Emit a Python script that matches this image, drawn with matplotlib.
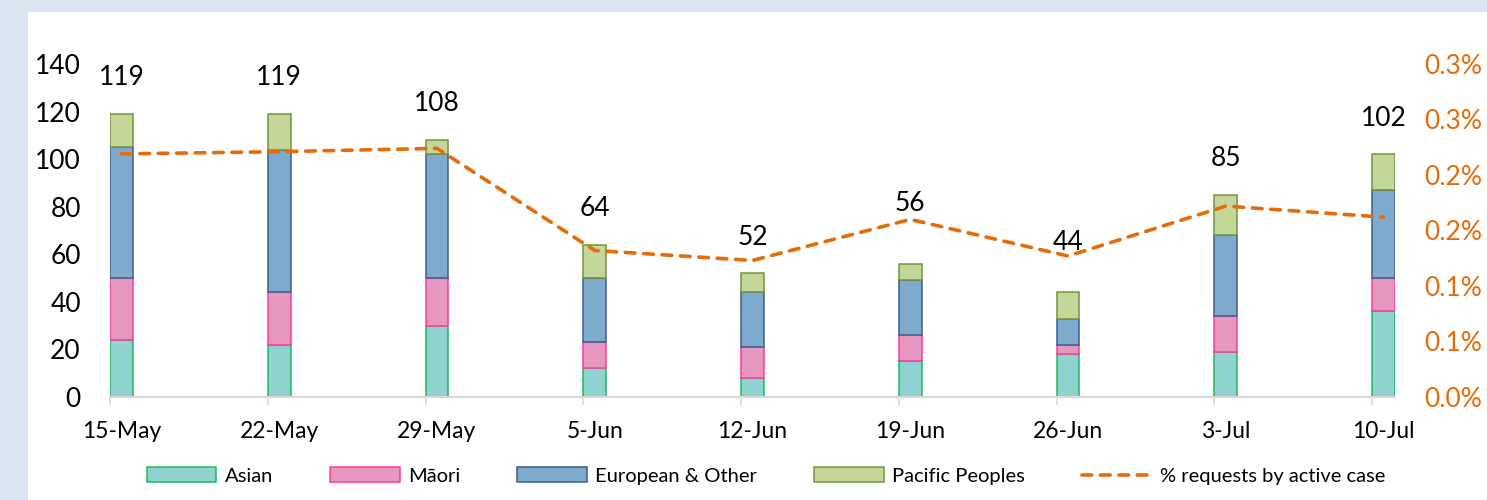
import numpy as np
import matplotlib
matplotlib.use('Agg')
import matplotlib.pyplot as plt
from matplotlib.patches import Rectangle

plt.rcParams['font.family'] = ['Lato', 'DejaVu Sans']

weeks = ['15-May', '22-May', '29-May', '5-Jun', '12-Jun', '19-Jun', '26-Jun', '3-Jul', '10-Jul']
asian = [24, 22, 30, 12, 8, 15, 18, 19, 36]
maori = [26, 22, 20, 11, 13, 11, 4, 15, 14]
european = [55, 60, 52, 27, 23, 23, 11, 34, 37]
pacific = [14, 15, 6, 14, 8, 7, 11, 17, 15]
pct_requests = [0.219, 0.221, 0.224, 0.132, 0.123, 0.160, 0.127, 0.172, 0.162]

right_ticks = [0.0, 0.05, 0.10, 0.15, 0.20, 0.25, 0.30]
right_labels = ['0.0%', '0.1%', '0.1%', '0.2%', '0.2%', '0.3%', '0.3%']

series = [
    ('Asian', asian, '#8ed3cf', '#1fba5c'),
    ('M\u0101ori', maori, '#e697c0', '#ff3b9b'),
    ('European & Other', european, '#7eaacd', '#3c5f8c'),
    ('Pacific Peoples', pacific, '#c4d79b', '#77933c'),
]

orange = '#e46c0a'

fig = plt.figure(figsize=(14.87, 5.0), dpi=100)
fig.patches.append(Rectangle((0, 0), 28 / 1487, 1, transform=fig.transFigure,
                             facecolor='#dce6f2', edgecolor='none', zorder=0))
fig.patches.append(Rectangle((0, 1 - 12 / 500), 1, 12 / 500, transform=fig.transFigure,
                             facecolor='#dce6f2', edgecolor='none', zorder=0))

ax = fig.add_axes([110 / 1487, 103 / 500, 1285 / 1487, 333 / 500])
x = np.arange(len(weeks))
w = 0.145
bottom = np.zeros(len(weeks))
handles = []
for name, vals, fc, ec in series:
    b = ax.bar(x, vals, w, bottom=bottom, color=fc, edgecolor=ec, linewidth=1.1,
               label=name, zorder=2)
    handles.append(b)
    bottom += np.array(vals)

# labels of 19-Jun and 26-Jun sit a bit higher, clear of the line
lift = {5: 10, 6: 5.5}
for i, tot in enumerate(bottom):
    ax.text(x[i], tot + 10 + lift.get(i, 0), str(int(tot)), ha='center', va='bottom',
            fontsize=19, color='black', zorder=4)

ax.set_ylim(0, 140)
ax.set_yticks(range(0, 141, 20))
ax.set_xlim(-w / 2, len(weeks) - 1 + w / 2)
ax.set_xticks(x)
ax.set_xticklabels(weeks)
ax.set_xticks(x - w / 2, minor=True)
ax.tick_params(axis='x', which='major', length=0, pad=17, labelsize=16.5)
ax.tick_params(axis='x', which='minor', length=6, color='#d9d9d9', width=1.2)
ax.tick_params(axis='y', length=0, pad=21, labelsize=19)
for s in ['top', 'right', 'left']:
    ax.spines[s].set_visible(False)
ax.spines['bottom'].set_color('#d9d9d9')
ax.spines['bottom'].set_linewidth(1.5)

ax2 = ax.twinx()
line, = ax2.plot(x, pct_requests, color=orange, linewidth=2.6, dashes=(2.7, 2.4),
                 dash_capstyle='round', label='% requests by active case', zorder=3)
ax2.set_ylim(0, 0.30)
ax2.set_yticks(right_ticks)
ax2.set_yticklabels(right_labels)
ax2.tick_params(axis='y', length=0, pad=21, labelsize=19, labelcolor=orange)
for s in ['top', 'right', 'left', 'bottom']:
    ax2.spines[s].set_visible(False)

fig.legend(handles + [line], [h.get_label() for h in handles] + [line.get_label()],
           loc='center', bbox_to_anchor=(766 / 1487, 1 - 476 / 500), ncol=5,
           frameon=False, fontsize=14.5, handlelength=3.45, handleheight=0.75,
           columnspacing=2.85, handletextpad=0.4)

fig.savefig('out.png', dpi=100, facecolor='white')
